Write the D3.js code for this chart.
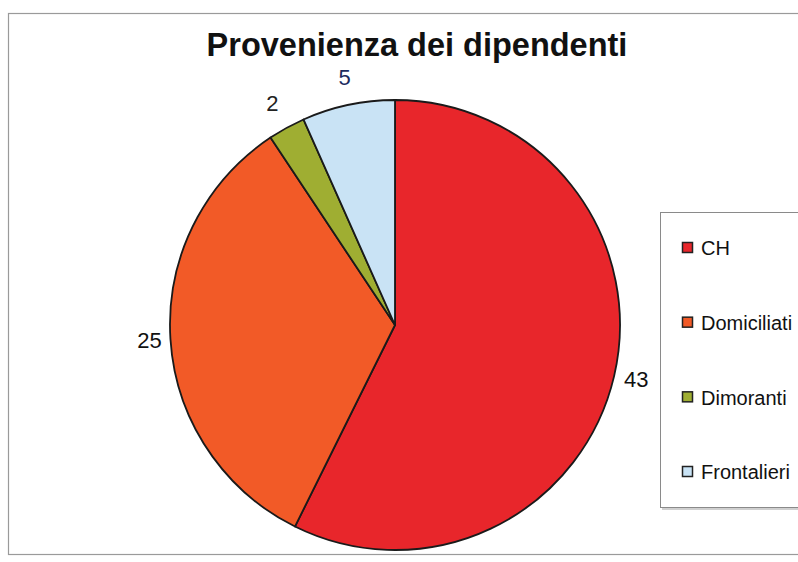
<!DOCTYPE html>
<html>
<head>
<meta charset="utf-8">
<script src="https://cdn.jsdelivr.net/npm/d3@7"></script>
<style>
  body { margin: 0; background: #fff; }
  text { font-family: "Liberation Sans", Arial, sans-serif; }
</style>
</head>
<body>
<div id="chart"></div>
<script>
const categories = ['CH', 'Domiciliati', 'Dimoranti', 'Frontalieri'];
const values = [43, 25, 2, 5];
const colors = ['#e8262b', '#f25a27', '#9fae32', '#c9e3f5'];
const labelColors = ['#111', '#111', '#222', '#1c2b5e'];

const width = 798, height = 562;
const cx = 395, cy = 325, radius = 225;

const svg = d3.select('#chart').append('svg')
  .attr('width', width)
  .attr('height', height);

// chart frame
svg.append('rect')
  .attr('x', 8.5).attr('y', 13.5)
  .attr('width', 800).attr('height', 541)
  .attr('fill', '#fff')
  .attr('stroke', '#9a9a9a')
  .attr('stroke-width', 1.2);

// title
svg.append('text')
  .attr('x', 417).attr('y', 56)
  .attr('text-anchor', 'middle')
  .style('font-size', '32.5px')
  .style('font-weight', 'bold')
  .attr('fill', '#111')
  .text('Provenienza dei dipendenti');

const data = categories.map((c, i) => ({ name: c, value: values[i], i }));

const pie = d3.pie().value(d => d.value).sort(null);
const arc = d3.arc().innerRadius(0).outerRadius(radius);
const arcs = pie(data);

const g = svg.append('g').attr('transform', `translate(${cx},${cy})`);

g.selectAll('path')
  .data(arcs)
  .enter()
  .append('path')
  .attr('d', arc)
  .attr('fill', d => colors[d.data.i])
  .attr('stroke', '#1a1a1a')
  .attr('stroke-width', 1.8)
  .attr('stroke-linejoin', 'round');

// value labels outside the slices
g.selectAll('.lbl')
  .data(arcs)
  .enter()
  .append('text')
  .attr('class', 'lbl')
  .each(function (d) {
    const a = (d.startAngle + d.endAngle) / 2;
    const s = Math.sin(a), c = Math.cos(a);
    const r = radius + 8 + 10 * Math.abs(c);
    const t = d3.select(this)
      .attr('x', r * s)
      .attr('y', -r * c)
      .attr('text-anchor', s > 0.3 ? 'start' : (s < -0.3 ? 'end' : 'middle'));
    if (c > 0.5) t.attr('dy', '-0.1em');
    else if (c < -0.5) t.attr('dy', '0.75em');
    else t.attr('dy', '0.36em');
  })
  .style('font-size', '22px')
  .attr('fill', d => labelColors[d.data.i])
  .text(d => d.data.value);

// legend
const legendX = 660, legendY = 212;
svg.append('rect')
  .attr('x', legendX + 2).attr('y', legendY + 2)
  .attr('width', 160).attr('height', 296)
  .attr('fill', '#d0d0d0');
svg.append('rect')
  .attr('x', legendX + 0.5).attr('y', legendY + 0.5)
  .attr('width', 160).attr('height', 295)
  .attr('fill', '#fff')
  .attr('stroke', '#8a8a8a');

const ly = d3.scalePoint()
  .domain(categories)
  .range([legendY + 36, legendY + 260]);

const leg = svg.selectAll('.leg')
  .data(data)
  .enter()
  .append('g')
  .attr('class', 'leg')
  .attr('transform', d => `translate(${legendX + 22},${ly(d.name)})`);

leg.append('rect')
  .attr('x', 0.5).attr('y', -5.5)
  .attr('width', 10).attr('height', 10)
  .attr('fill', d => colors[d.i])
  .attr('stroke', '#222')
  .attr('stroke-width', 1.5);

leg.append('text')
  .attr('x', 19)
  .attr('dy', '0.36em')
  .style('font-size', '20px')
  .attr('fill', '#111')
  .text(d => d.name);
</script>
</body>
</html>
